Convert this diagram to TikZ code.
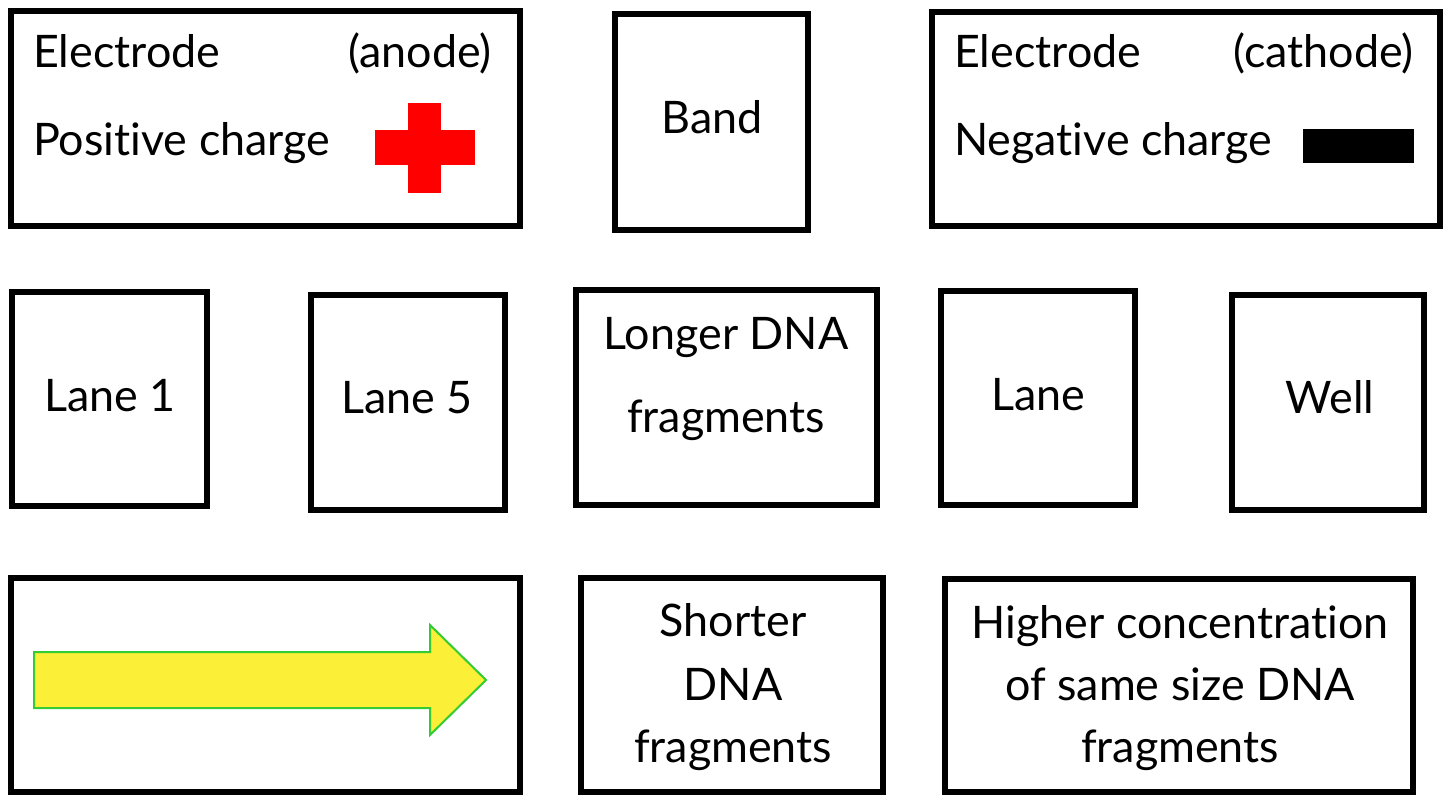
\documentclass[tikz,border=0pt]{standalone}
\usepackage{fontspec}
\setmainfont[Ligatures=NoCommon]{Lato}
\definecolor{arrowfill}{HTML}{FBF037}
\definecolor{arrowline}{HTML}{33CC33}
\definecolor{plusred}{HTML}{FF0000}
\tikzset{
  card/.style={draw=black, line width=6.5bp, fill=white, inner sep=0pt, rectangle},
  lbl/.style={inner sep=0pt, anchor=base, font=\fontsize{45}{54}\selectfont},
  lblw/.style={lbl, anchor=base west},
  lble/.style={lbl, anchor=base east},
}
\begin{document}
\begin{tikzpicture}[x=1bp,y=-1bp]
\useasboundingbox (0,0) rectangle (1449,797);
% row 1
\node[card, minimum width=509bp, minimum height=215bp] (anode) at (265.5,118.5) {};
\node[lblw] (anodeT) at (33,68) {Electrode};
\node[lble] (anodeP) at (492,68) {(anode)};
\node[lblw] (anodeC) at (33,155) {Positive charge};
\fill[plusred] (375,130) rectangle (475,165);
\fill[plusred] (408,103) rectangle (441,193);
\node[card, minimum width=193bp, minimum height=216bp] (band) at (711.5,122) {};
\node[lbl] (bandT) at (712,133) {Band};
\node[card, minimum width=508bp, minimum height=214bp] (cathode) at (1186,119) {};
\node[lblw] (cathodeT) at (954,68) {Electrode};
\node[lble] (cathodeP) at (1414,68) {(cathode)};
\node[lblw] (cathodeC) at (954,155) {Negative charge};
\fill[black] (1303,129) rectangle (1414,163);
% row 2
\node[card, minimum width=195bp, minimum height=214bp] (lane1) at (109.5,399) {};
\node[lbl] (lane1T) at (110,411) {Lane 1};
\node[card, minimum width=194bp, minimum height=215bp] (lane5) at (408,402.5) {};
\node[lbl] (lane5T) at (407,413) {Lane 5};
\node[card, minimum width=301bp, minimum height=215bp] (longer) at (726.5,397.5) {};
\node[lbl] (longerA) at (726,349) {Longer DNA};
\node[lbl] (longerB) at (726,432) {fragments};
\node[card, minimum width=194bp, minimum height=214bp] (lane) at (1038,398) {};
\node[lbl] (laneT) at (1038,410) {Lane};
\node[card, minimum width=192bp, minimum height=215bp] (well) at (1328,402.5) {};
\node[lbl] (wellT) at (1330,413) {Well};
% row 3
\node[card, minimum width=509bp, minimum height=214bp] (arrowbox) at (265.5,685) {};
\draw[arrowline, fill=arrowfill, line width=2bp, line join=miter]
  (34,652) -- (430,652) -- (430,625) -- (486,680) -- (430,735) -- (430,708) -- (34,708) -- cycle;
\node[card, minimum width=302bp, minimum height=214bp] (shorter) at (732,685) {};
\node[lbl] (shorterA) at (733,636) {Shorter};
\node[lbl] (shorterB) at (733,700) {DNA};
\node[lbl] (shorterC) at (733,762) {fragments};
\node[card, minimum width=468bp, minimum height=213bp] (higher) at (1179,685.5) {};
\node[lbl] (higherA) at (1180,638) {Higher concentration};
\node[lbl] (higherB) at (1180,700) {of same size DNA};
\node[lbl] (higherC) at (1180,762) {fragments};
\end{tikzpicture}
\end{document}
